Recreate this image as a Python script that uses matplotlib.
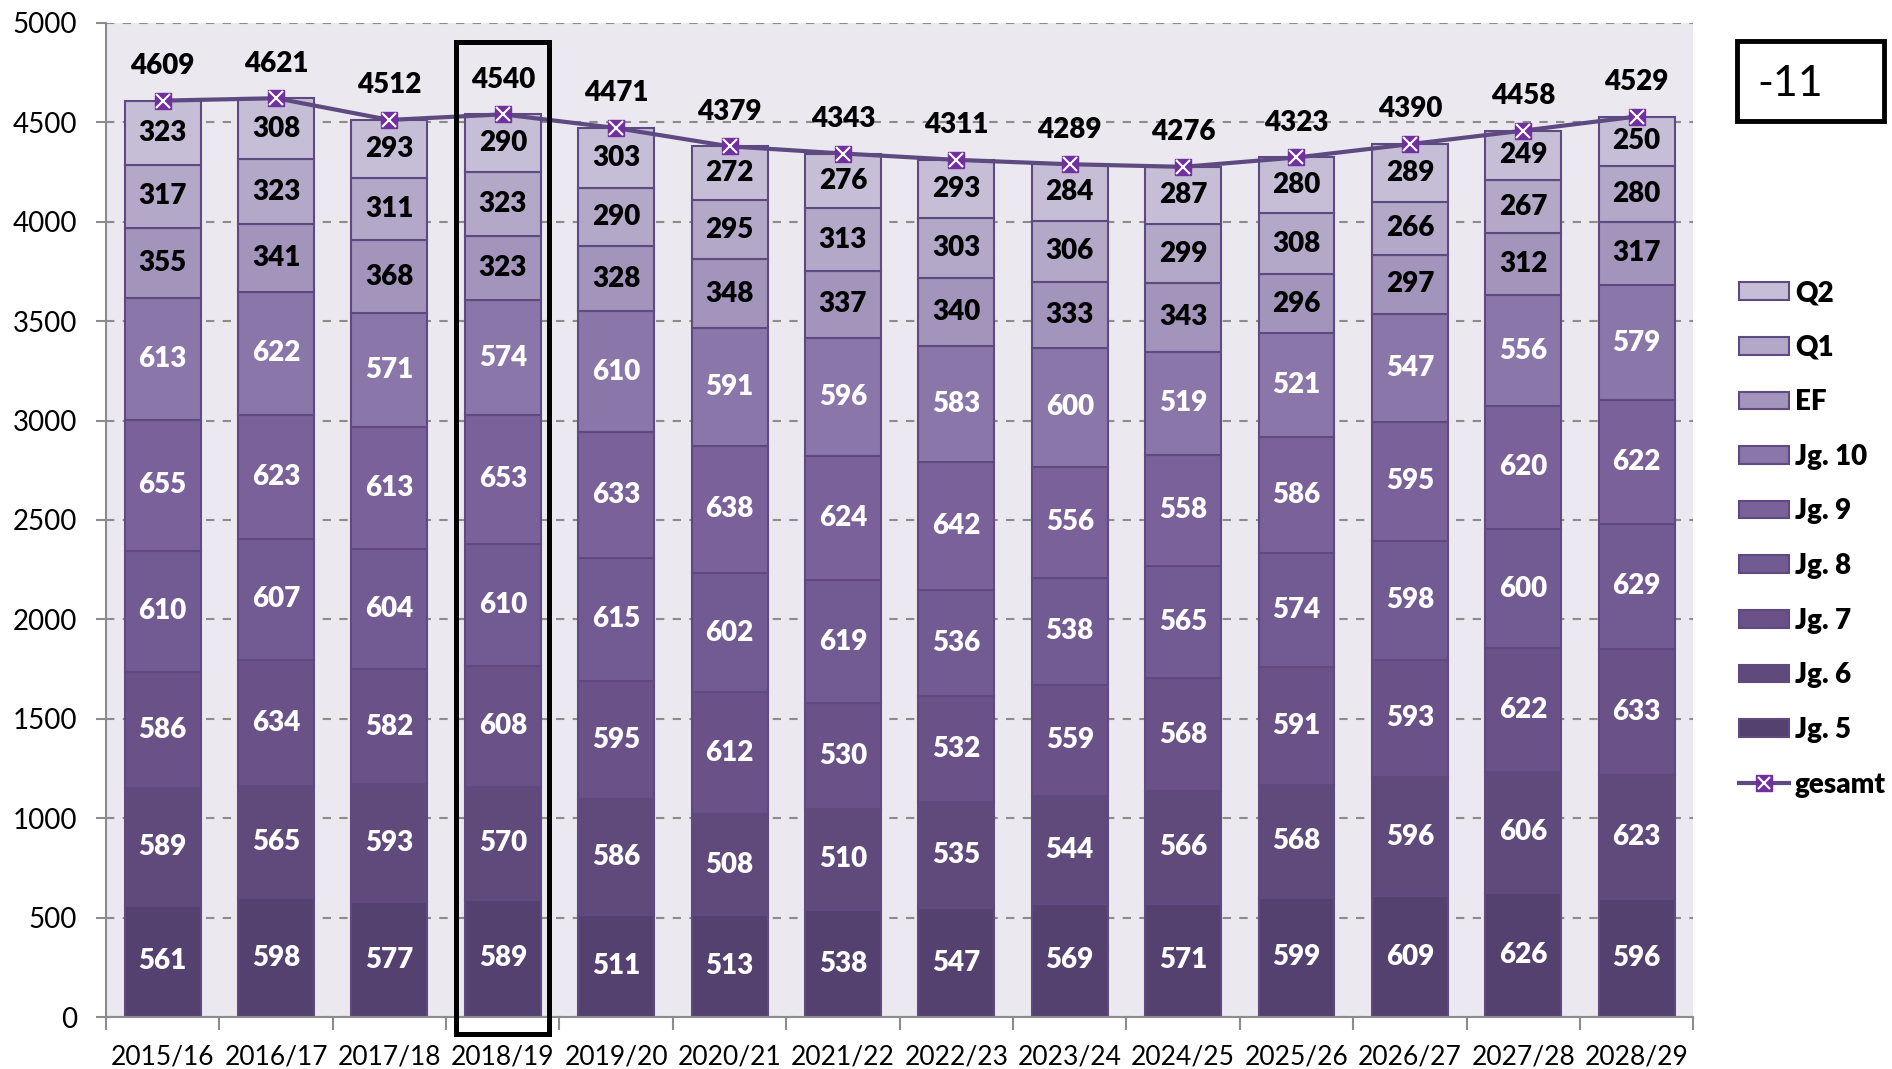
import matplotlib
matplotlib.use("Agg")
import matplotlib.pyplot as plt
import matplotlib.patches as patches
from matplotlib.lines import Line2D
import numpy as np

plt.rcParams['font.family'] = ['Lato', 'DejaVu Sans']

years = ['2015/16', '2016/17', '2017/18', '2018/19', '2019/20', '2020/21', '2021/22',
         '2022/23', '2023/24', '2024/25', '2025/26', '2026/27', '2027/28', '2028/29']

# stacked from bottom to top
jg5 = [561, 598, 577, 589, 511, 513, 538, 547, 569, 571, 599, 609, 626, 596]
jg6 = [589, 565, 593, 570, 586, 508, 510, 535, 544, 566, 568, 596, 606, 623]
jg7 = [586, 634, 582, 608, 595, 612, 530, 532, 559, 568, 591, 593, 622, 633]
jg8 = [610, 607, 604, 610, 615, 602, 619, 536, 538, 565, 574, 598, 600, 629]
jg9 = [655, 623, 613, 653, 633, 638, 624, 642, 556, 558, 586, 595, 620, 622]
jg10 = [613, 622, 571, 574, 610, 591, 596, 583, 600, 519, 521, 547, 556, 579]
ef = [355, 341, 368, 323, 328, 348, 337, 340, 333, 343, 296, 297, 312, 317]
q1 = [317, 323, 311, 323, 290, 295, 313, 303, 306, 299, 308, 266, 267, 280]
q2 = [323, 308, 293, 290, 303, 272, 276, 293, 284, 287, 280, 289, 249, 250]
gesamt = [4609, 4621, 4512, 4540, 4471, 4379, 4343, 4311, 4289, 4276, 4323, 4390, 4458, 4529]

series_names = ['Jg. 5', 'Jg. 6', 'Jg. 7', 'Jg. 8', 'Jg. 9', 'Jg. 10', 'EF', 'Q1', 'Q2']
series = [jg5, jg6, jg7, jg8, jg9, jg10, ef, q1, q2]
colors = ['#54416f', '#5f4a7b', '#6a5289', '#725a92', '#7b6199', '#8b76a9',
          '#a294ba', '#b3a8c8', '#c6bed6']
label_colors = ['white'] * 6 + ['black'] * 3
highlight_year = '2018/19'
delta_text = '-11'

edge = '#5e4a80'
bg = '#ebe9ef'
heavy = 'heavy'

fig = plt.figure(figsize=(18.92, 10.69), dpi=100)
ax = fig.add_axes([0.056, 0.0486, 0.839, 0.93])
ax.set_facecolor(bg)

x = np.arange(len(years))
bottom = np.zeros(len(years))
bar_w = 0.67
for name, vals, col, lc in zip(series_names, series, colors, label_colors):
    vals = np.array(vals)
    ax.bar(x, vals, bar_w, bottom=bottom, color=col, edgecolor=edge, linewidth=1.5,
           zorder=2, label=name)
    for xi, b, v in zip(x, bottom, vals):
        ax.text(xi, b + v / 2, str(v), ha='center', va='center', fontsize=20,
                fontweight=heavy, color=lc, zorder=4)
    bottom += vals

# total line
ax.plot(x, gesamt, color=edge, linewidth=3, zorder=5)
ax.plot(x, gesamt, linestyle='none', marker='s', markersize=12,
        markerfacecolor='#7030a0', markeredgecolor='#7030a0', zorder=6)
ax.plot(x, gesamt, linestyle='none', marker='x', markersize=10,
        markeredgecolor='white', markeredgewidth=1.5, zorder=7)
for xi, t in zip(x, gesamt):
    ax.annotate(str(t), (xi, t), xytext=(0, 25), textcoords='offset points',
                ha='center', va='center', fontsize=20, fontweight=heavy, color='black',
                zorder=8)

# highlight box
hi = years.index(highlight_year)
rect = patches.Rectangle((hi - 0.41, -85), 0.82, 4989, fill=False, edgecolor='black',
                         linewidth=3.6, clip_on=False, zorder=9)
ax.add_patch(rect)

ax.set_xlim(-0.5, len(years) - 0.5)
ax.set_ylim(0, 5000)
ax.set_yticks(np.arange(0, 5001, 500))
ax.yaxis.grid(True, linestyle=(0, (4, 4)), color='#8c8c8c', linewidth=1.5, zorder=0)
ax.set_axisbelow(True)

ax.set_xticks(x)
ax.set_xticklabels(years)
ax.set_xticks(np.arange(-0.5, len(years), 1), minor=True)
ax.tick_params(axis='x', which='major', length=0, pad=20, labelsize=19)
ax.tick_params(axis='x', which='minor', length=9, width=1.5, color='#8c8c8c')
ax.tick_params(axis='y', length=7, width=1.5, color='#8c8c8c', labelsize=20, pad=14)

for s in ['top', 'right']:
    ax.spines[s].set_visible(False)
for s in ['left', 'bottom']:
    ax.spines[s].set_color('#8c8c8c')
    ax.spines[s].set_linewidth(1.5)

# legend
handles = []
labels = []
for name, col in zip(series_names[::-1], colors[::-1]):
    handles.append(patches.Patch(facecolor=col, edgecolor=edge, linewidth=1.5))
    labels.append(name)
line_h = Line2D([0], [0], color=edge, linewidth=3, marker='s', markersize=11,
                markerfacecolor='#7030a0', markeredgecolor='#7030a0')
x_h = Line2D([0], [0], linestyle='none', marker='x', markersize=9,
             markeredgecolor='white', markeredgewidth=1.5)
handles.append((line_h, x_h))
labels.append('gesamt')
fig.legend(handles, labels, loc='center left', bbox_to_anchor=(0.912, 0.496),
           frameon=False, prop={'size': 20, 'weight': heavy}, labelspacing=1.03,
           handlelength=1.8, handleheight=0.6, handletextpad=0.2, borderpad=0)

# delta box
box = patches.Rectangle((0.918, 0.887), 0.078, 0.0746, transform=fig.transFigure,
                        fill=False, edgecolor='black', linewidth=3.5)
fig.patches.append(box)
fig.text(0.929, 0.921, delta_text, ha='left', va='center', fontsize=31, color='black')

fig.savefig('out.png', dpi=100)
